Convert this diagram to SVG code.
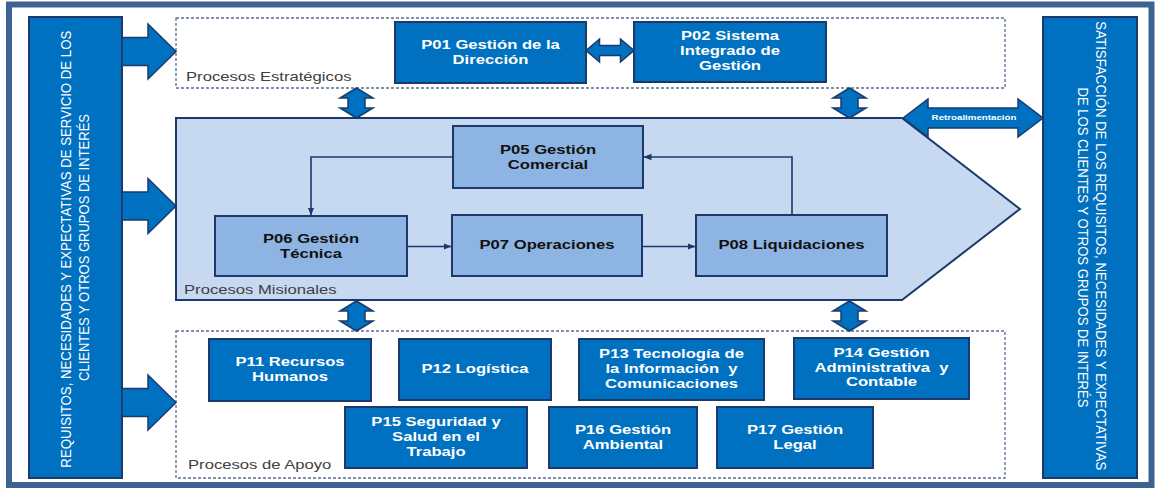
<svg xmlns="http://www.w3.org/2000/svg" xmlns:xlink="http://www.w3.org/1999/xlink" width="1155" height="488" viewBox="0 0 1155 488">
  <style>
    .blue { fill:#0070c0; stroke:#1b3a6b; stroke-width:2; }
    .light { fill:#8db4e2; stroke:#1b3a6b; stroke-width:2; }
    .dash { fill:none; stroke:#5a6f92; stroke-width:1.3; stroke-dasharray:3 2; }
    .barrow { fill:#0070c0; stroke:#1b3a6b; stroke-width:1.5; stroke-linejoin:miter; }
    .conn { fill:none; stroke:#1b3a6b; stroke-width:1.6; }
    .tw { font-family:"Liberation Sans", Arial, sans-serif; font-weight:bold; font-size:13px; fill:#ffffff; text-anchor:middle; }
    .tk { font-family:"Liberation Sans", Arial, sans-serif; font-weight:bold; font-size:13px; fill:#111111; text-anchor:middle; }
    .lbl { font-family:"Liberation Sans", Arial, sans-serif; font-size:13px; fill:#404040; }
    .side { font-family:"Liberation Sans", Arial, sans-serif; font-size:12px; fill:#ffffff; text-anchor:middle; }
    .retro { font-family:"Liberation Sans", Arial, sans-serif; font-weight:bold; font-size:7.6px; fill:#ffffff; text-anchor:middle; }
  </style>
  <defs>
    <marker id="tip" viewBox="0 0 8 8" refX="7.5" refY="4" markerWidth="8" markerHeight="8" markerUnits="userSpaceOnUse" orient="auto">
      <path d="M0,0.8 L8,4 L0,7.2 z" fill="#1b3a6b"/>
    </marker>
    <!-- vertical two-headed block arrow, centred on the origin -->
    <polygon id="vdouble" class="barrow" points="0,-15 16.5,-5 8.5,-5 8.5,5 16.5,5 0,15 -16.5,5 -8.5,5 -8.5,-5 -16.5,-5"/>
    <!-- right-pointing block arrow, tip at the origin -->
    <polygon id="rarrow" class="barrow" points="0,0 -28,-27.5 -28,-14 -54,-14 -54,14 -28,14 -28,27.5"/>
  </defs>

  <rect x="0" y="0" width="1155" height="488" fill="#ffffff"/>
  <!-- outer frame -->
  <rect x="9" y="4.5" width="1142.5" height="480.5" fill="none" stroke="#3d6392" stroke-width="6"/>

  <!-- process group areas -->
  <g id="procesos-estrategicos">
    <rect class="dash" x="176" y="18" width="829" height="70"/>
    <text class="lbl" transform="matrix(1.28 0 0 1 186 0)" x="0" y="81">Procesos Estratégicos</text>
  </g>
  <g id="procesos-misionales">
    <polygon points="176,118 902,118 1020,209 902,300 176,300" fill="#c6d9f1" stroke="#1b3a6b" stroke-width="2"/>
    <text class="lbl" transform="matrix(1.28 0 0 1 184 0)" x="0" y="294">Procesos Misionales</text>
  </g>
  <g id="procesos-apoyo">
    <rect class="dash" x="176" y="331" width="829" height="147"/>
    <text class="lbl" transform="matrix(1.28 0 0 1 188 0)" x="0" y="469">Procesos de Apoyo</text>
  </g>

  <!-- input and output bars -->
  <g id="requisitos">
    <rect class="blue" x="29" y="17" width="93" height="461"/>
    <text class="side" transform="translate(71 247.5) scale(1.28 1) rotate(-90)">
      <tspan x="0" y="0" textLength="437" lengthAdjust="spacingAndGlyphs">REQUISITOS, NECESIDADES Y EXPECTATIVAS DE SERVICIO DE LOS</tspan>
      <tspan x="0" y="14" textLength="267" lengthAdjust="spacingAndGlyphs">CLIENTES Y OTROS GRUPOS DE INTERÉS</tspan>
    </text>
  </g>
  <g id="satisfaccion">
    <rect class="blue" x="1043" y="17" width="94" height="461"/>
    <text class="side" transform="translate(1095.5 247.5) scale(1.28 1) rotate(90)">
      <tspan x="0" y="0" textLength="449" lengthAdjust="spacingAndGlyphs">SATISFACCIÓN DE LOS REQUISITOS, NECESIDADES Y EXPECTATIVAS</tspan>
      <tspan x="0" y="14" textLength="320" lengthAdjust="spacingAndGlyphs">DE LOS CLIENTES Y OTROS GRUPOS DE INTERÉS</tspan>
    </text>
  </g>

  <!-- strategic processes -->
  <g id="p01">
    <rect class="blue" x="395" y="22" width="191" height="61"/>
    <text class="tw" transform="matrix(1.28 0 0 1 490.5 0)"><tspan x="0" y="49">P01 Gestión de la</tspan><tspan x="0" y="64">Dirección</tspan></text>
  </g>
  <g id="p02">
    <rect class="blue" x="634" y="22" width="192" height="60"/>
    <text class="tw" transform="matrix(1.28 0 0 1 730 0)"><tspan x="0" y="40">P02 Sistema</tspan><tspan x="0" y="55">Integrado de</tspan><tspan x="0" y="70">Gestión</tspan></text>
  </g>

  <!-- mission processes -->
  <g id="p05">
    <rect class="light" x="453" y="126" width="190" height="62"/>
    <text class="tk" transform="matrix(1.28 0 0 1 548 0)"><tspan x="0" y="154">P05 Gestión</tspan><tspan x="0" y="169">Comercial</tspan></text>
  </g>
  <g id="p06">
    <rect class="light" x="215" y="216" width="192" height="60"/>
    <text class="tk" transform="matrix(1.28 0 0 1 311 0)"><tspan x="0" y="243">P06 Gestión</tspan><tspan x="0" y="258">Técnica</tspan></text>
  </g>
  <g id="p07">
    <rect class="light" x="452" y="215" width="190" height="61"/>
    <text class="tk" transform="matrix(1.28 0 0 1 547 0)" x="0" y="249">P07 Operaciones</text>
  </g>
  <g id="p08">
    <rect class="light" x="696" y="215" width="191" height="61"/>
    <text class="tk" transform="matrix(1.28 0 0 1 791.5 0)" x="0" y="249">P08 Liquidaciones</text>
  </g>

  <!-- support processes -->
  <g id="p11">
    <rect class="blue" x="209" y="339" width="162" height="62"/>
    <text class="tw" transform="matrix(1.28 0 0 1 290 0)"><tspan x="0" y="366">P11 Recursos</tspan><tspan x="0" y="381">Humanos</tspan></text>
  </g>
  <g id="p12">
    <rect class="blue" x="399" y="339" width="152" height="61"/>
    <text class="tw" transform="matrix(1.28 0 0 1 475 0)" x="0" y="373">P12 Logística</text>
  </g>
  <g id="p13">
    <rect class="blue" x="579" y="339" width="185" height="61"/>
    <text class="tw" transform="matrix(1.28 0 0 1 671.5 0)"><tspan x="0" y="358">P13 Tecnología de</tspan><tspan x="0" y="373" xml:space="preserve">la Información  y</tspan><tspan x="0" y="388">Comunicaciones</tspan></text>
  </g>
  <g id="p14">
    <rect class="blue" x="794" y="338" width="175" height="61"/>
    <text class="tw" transform="matrix(1.28 0 0 1 881.5 0)"><tspan x="0" y="357">P14 Gestión</tspan><tspan x="0" y="372" xml:space="preserve">Administrativa  y</tspan><tspan x="0" y="386">Contable</tspan></text>
  </g>
  <g id="p15">
    <rect class="blue" x="345" y="407" width="182" height="61"/>
    <text class="tw" transform="matrix(1.28 0 0 1 436 0)"><tspan x="0" y="426">P15 Seguridad y</tspan><tspan x="0" y="441">Salud en el</tspan><tspan x="0" y="456">Trabajo</tspan></text>
  </g>
  <g id="p16">
    <rect class="blue" x="549" y="407" width="148" height="61"/>
    <text class="tw" transform="matrix(1.28 0 0 1 623 0)"><tspan x="0" y="434">P16 Gestión</tspan><tspan x="0" y="449">Ambiental</tspan></text>
  </g>
  <g id="p17">
    <rect class="blue" x="717" y="407" width="156" height="61"/>
    <text class="tw" transform="matrix(1.28 0 0 1 795 0)"><tspan x="0" y="434">P17 Gestión</tspan><tspan x="0" y="449">Legal</tspan></text>
  </g>

  <!-- connectors -->
  <g id="connectors">
    <path class="conn" d="M453,157 H311 V215" marker-end="url(#tip)"/>
    <path class="conn" d="M407,246.5 H451" marker-end="url(#tip)"/>
    <path class="conn" d="M642,246.5 H695" marker-end="url(#tip)"/>
    <path class="conn" d="M792,215 V157 H644" marker-end="url(#tip)"/>

    <use xlink:href="#rarrow" href="#rarrow" x="176" y="51.5"/>
    <use xlink:href="#rarrow" href="#rarrow" x="176" y="206"/>
    <use xlink:href="#rarrow" href="#rarrow" x="176" y="402.5"/>

    <polygon class="barrow" points="586,50.5 599.5,39 599.5,45.5 620.5,45.5 620.5,39 634,50.5 620.5,62 620.5,55.5 599.5,55.5 599.5,62"/>

    <use xlink:href="#vdouble" href="#vdouble" x="356.5" y="103"/>
    <use xlink:href="#vdouble" href="#vdouble" x="849.5" y="103"/>
    <use xlink:href="#vdouble" href="#vdouble" x="356.5" y="316"/>
    <use xlink:href="#vdouble" href="#vdouble" x="849.5" y="316"/>

    <g id="retroalimentacion">
      <polygon class="barrow" points="903,118 928,99 928,108 1018,108 1018,99 1043,118 1018,137 1018,128 928,128 928,137"/>
      <text class="retro" transform="matrix(1.28 0 0 1 974 0)" x="0" y="120.5">Retroalimentación</text>
    </g>
  </g>
</svg>
